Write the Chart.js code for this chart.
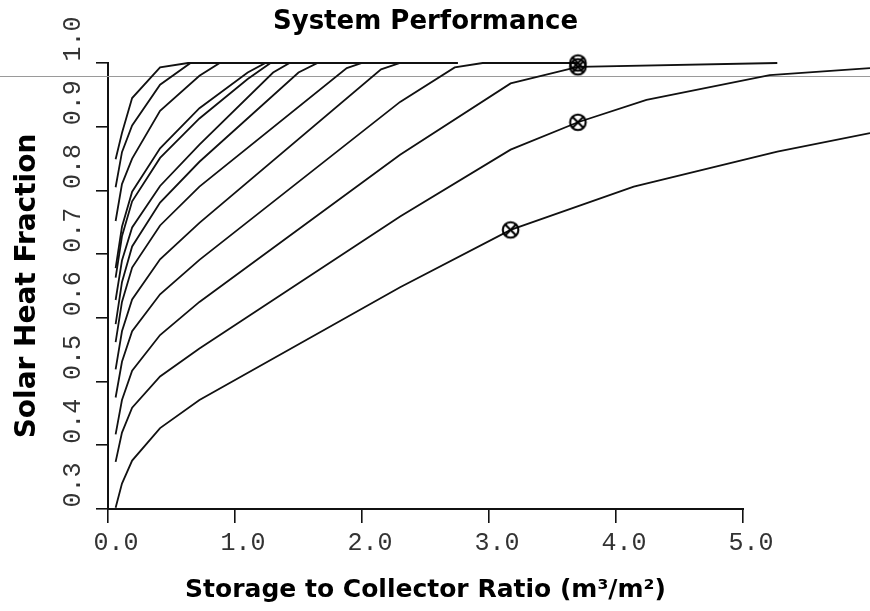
<!DOCTYPE html>
<html>
<head>
<meta charset="utf-8">
<title>System Performance</title>
<script src="https://cdn.jsdelivr.net/npm/chart.js@4.4.1/dist/chart.umd.min.js"></script>
<style>
  html, body { margin: 0; padding: 0; background: #fff; }
  #wrap { position: relative; width: 870px; height: 611px; }
</style>
</head>
<body>
<div id="wrap"><canvas id="chart" width="870" height="611"></canvas></div>
<script>
// Solar heat fraction against storage-to-collector ratio (m³/m²), one curve per system size.
// Each curve: [ratio, fraction] pairs.
const curve01 = [[0.06,0.849],[0.11,0.890],[0.19,0.945],[0.41,0.993],[0.63,1.0],[2.75,1.0]];
const curve02 = [[0.06,0.805],[0.11,0.860],[0.19,0.902],[0.41,0.966],[0.65,1.0],[2.75,1.0]];
const curve03 = [[0.06,0.752],[0.11,0.810],[0.19,0.850],[0.41,0.925],[0.72,0.980],[0.88,1.0],[2.75,1.0]];
const curve04 = [[0.06,0.678],[0.11,0.743],[0.19,0.798],[0.41,0.866],[0.72,0.929],[1.10,0.985],[1.24,1.0],[2.75,1.0]];
const curve05 = [[0.06,0.663],[0.11,0.728],[0.19,0.783],[0.41,0.851],[0.72,0.913],[1.10,0.975],[1.28,1.0],[2.75,1.0]];
const curve06 = [[0.06,0.628],[0.11,0.690],[0.19,0.742],[0.41,0.807],[0.72,0.872],[1.30,0.985],[1.43,1.0],[2.75,1.0]];
const curve07 = [[0.06,0.590],[0.11,0.656],[0.19,0.712],[0.41,0.781],[0.72,0.845],[1.50,0.985],[1.65,1.0],[2.75,1.0]];
const curve08 = [[0.06,0.562],[0.11,0.625],[0.19,0.679],[0.41,0.745],[0.72,0.806],[1.88,0.992],[2.00,1.0],[2.75,1.0]];
const curve09 = [[0.06,0.519],[0.11,0.579],[0.19,0.629],[0.41,0.692],[0.72,0.749],[2.15,0.990],[2.30,1.0],[2.75,1.0]];
const curve10 = [[0.06,0.475],[0.11,0.531],[0.19,0.579],[0.41,0.637],[0.72,0.691],[2.30,0.939],[2.73,0.993],[2.95,1.0],[3.70,1.0]];
const curve11 = [[0.06,0.417],[0.11,0.471],[0.19,0.517],[0.41,0.573],[0.72,0.625],[2.30,0.856],[3.17,0.968],[3.70,0.994],[5.27,1.0]];
const curve12 = [[0.06,0.374],[0.11,0.420],[0.19,0.459],[0.41,0.508],[0.72,0.552],[2.30,0.759],[3.17,0.864],[3.70,0.907],[4.24,0.942],[5.21,0.981],[6.00,0.992]];
const curve13 = [[0.06,0.302],[0.11,0.340],[0.19,0.376],[0.41,0.427],[0.72,0.471],[2.30,0.648],[3.17,0.738],[4.14,0.806],[5.27,0.861],[6.00,0.890]];

// Design points marked on the curves
const markerRatio    = [3.17, 3.70, 3.70, 3.70];
const markerFraction = [0.738, 0.907, 0.994, 1.0];

// Axis ticks and the horizontal reference level
const xTicks = [0, 1, 2, 3, 4, 5];
const yTicks = [0.3, 0.4, 0.5, 0.6, 0.7, 0.8, 0.9, 1.0];
const referenceFraction = 0.98;

const titleText  = 'System Performance';
const xTitleText = 'Storage to Collector Ratio (m³/m²)';
const yTitleText = 'Solar Heat Fraction';

const curves = [curve01, curve02, curve03, curve04, curve05, curve06, curve07,
                curve08, curve09, curve10, curve11, curve12, curve13];

const INK = '#111';
const TICK_FAMILY = '"Liberation Mono"';
const TICK_SIZE = 25;

// Circle-with-cross marker glyph
function ringCross() {
  const c = document.createElement('canvas');
  c.width = 21; c.height = 21;
  const g = c.getContext('2d');
  g.strokeStyle = '#000';
  g.lineWidth = 2.1;
  g.beginPath();
  g.arc(10.5, 10.5, 7.8, 0, Math.PI * 2);
  g.stroke();
  g.beginPath();
  g.moveTo(5, 5); g.lineTo(16, 16);
  g.moveTo(16, 5); g.lineTo(5, 16);
  g.stroke();
  return c;
}

const datasets = [{
  label: 'design points',
  data: markerRatio.map((x, i) => ({ x, y: markerFraction[i] })),
  showLine: false,
  pointStyle: ringCross(),
  pointRadius: 9,
  clip: 12
}].concat(curves.map((c, i) => ({
  label: 'curve ' + (i + 1),
  data: c.map(p => ({ x: p[0], y: p[1] })),
  showLine: true,
  borderColor: INK,
  borderWidth: 1.8,
  pointRadius: 0,
  tension: 0,
  fill: false,
  clip: { left: 0, top: 4, right: 0, bottom: 0 }
})));

// Extra drawing: reference level, bottom axis line, rotated y labels, titles
const decorations = {
  id: 'decorations',
  beforeDatasetsDraw(chart) {
    const { ctx, scales: { y } } = chart;
    ctx.save();
    const yr = Math.round(y.getPixelForValue(referenceFraction)) + 0.5;
    ctx.strokeStyle = '#9a9a9a';
    ctx.lineWidth = 1.2;
    ctx.beginPath();
    ctx.moveTo(0, yr);
    ctx.lineTo(chart.width, yr);
    ctx.stroke();
    ctx.restore();
  },
  afterDraw(chart) {
    const { ctx, chartArea, scales: { x, y } } = chart;
    ctx.save();
    // bottom axis line spans the labelled range only
    ctx.strokeStyle = INK;
    ctx.lineWidth = 2;
    ctx.beginPath();
    ctx.moveTo(x.getPixelForValue(xTicks[0]) - 1, chartArea.bottom);
    ctx.lineTo(x.getPixelForValue(xTicks[xTicks.length - 1]) + 1, chartArea.bottom);
    ctx.stroke();

    // rotated y tick labels
    ctx.fillStyle = '#333';
    ctx.font = TICK_SIZE + 'px ' + TICK_FAMILY;
    ctx.textAlign = 'center';
    ctx.textBaseline = 'middle';
    y.ticks.forEach(t => {
      const py = y.getPixelForValue(t.value);
      ctx.save();
      ctx.translate(73, py - 24);
      ctx.rotate(-Math.PI / 2);
      ctx.fillText(t.value.toFixed(1), 0, 0);
      ctx.restore();
    });

    // titles centred over the labelled x range
    const cx = (x.getPixelForValue(xTicks[0]) + x.getPixelForValue(xTicks[xTicks.length - 1])) / 2;
    ctx.fillStyle = '#000';
    ctx.font = 'bold 26px "DejaVu Sans"';
    ctx.fillText(titleText, cx, 22);
    ctx.font = 'bold 25px "DejaVu Sans"';
    ctx.fillText(xTitleText, cx, 590);
    ctx.restore();
  }
};

new Chart(document.getElementById('chart'), {
  type: 'scatter',
  data: { datasets },
  options: {
    responsive: false,
    devicePixelRatio: 1,
    animation: false,
    layout: { autoPadding: false, padding: { top: 63, right: 0, bottom: 0, left: 0 } },
    plugins: { legend: { display: false }, tooltip: { enabled: false }, title: { display: false } },
    scales: {
      x: {
        type: 'linear',
        min: 0,
        max: 6,
        afterBuildTicks: s => { s.ticks = xTicks.map(v => ({ value: v })); },
        afterFit: s => { s.height = 102; s.paddingLeft = 0; s.paddingRight = 0; },
        ticks: {
          callback: v => Number(v).toFixed(1),
          font: { family: 'Liberation Mono', size: TICK_SIZE },
          color: '#333',
          padding: 5,
          labelOffset: 8,
          maxRotation: 0,
          autoSkip: false
        },
        grid: { drawOnChartArea: false, drawTicks: true, tickLength: 14, color: INK, lineWidth: 1.6 },
        border: { display: false }
      },
      y: {
        type: 'linear',
        min: 0.3,
        max: 1.0,
        afterBuildTicks: s => { s.ticks = yTicks.map(v => ({ value: v })); },
        afterFit: s => { s.width = 108; s.paddingTop = 0; s.paddingBottom = 0; },
        ticks: { display: false },
        grid: { drawOnChartArea: false, drawTicks: true, tickLength: 12, color: INK, lineWidth: 1.6 },
        border: { display: true, color: INK, width: 2 },
        title: {
          display: true,
          text: yTitleText,
          color: '#000',
          font: { family: 'DejaVu Sans', weight: 'bold', size: 28 },
          padding: { top: 11, bottom: 0 }
        }
      }
    }
  },
  plugins: [decorations]
});
</script>
</body>
</html>
